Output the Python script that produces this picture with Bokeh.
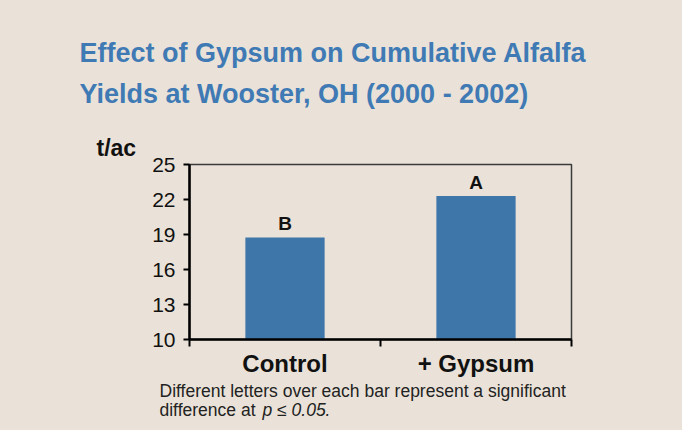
from bokeh.plotting import figure
from bokeh.models import Range1d, FixedTicker, Title
from bokeh.layouts import column
from bokeh.core.properties import value
from bokeh.embed import file_html
from bokeh.resources import INLINE

# ---- data ----
categories = ["Control", "+ Gypsum"]
yields = [18.75, 22.3]
letters = ["B", "A"]
y_ticks = [10, 13, 16, 19, 22, 25]

title_lines = ["Effect of Gypsum on Cumulative Alfalfa",
               "Yields at Wooster, OH (2000 - 2002)"]
y_unit = "t/ac"
note_line1 = "Different letters over each bar represent a significant"
note_line2a = "difference at "
note_line2b = "p \u2264 0.05."

FONT = "Liberation Sans"
BG = "#eae2d8"
BAR = "#3f76aa"
TITLE_C = "#3f7ab5"
W = 682


def text_panel(h):
    f = figure(width=W, height=h, output_backend="svg", toolbar_location=None,
               x_range=Range1d(0, W), y_range=Range1d(h, 0),
               x_axis_location=None, y_axis_location=None,
               min_border=0, min_border_left=0, min_border_right=0,
               min_border_top=0, min_border_bottom=0, frame_align=False)
    f.background_fill_color = BG
    f.border_fill_color = BG
    f.outline_line_color = None
    f.grid.visible = False
    return f


def put(f, x, y, txt, size, color="#111111", style="normal"):
    f.text(x=[x], y=[y], text=[txt], text_font=value(FONT), text_font_size=size,
           text_color=color, text_font_style=style,
           text_baseline="top", text_align="left")


# ---- header: title ----
head = text_panel(127)
put(head, 79, 37, title_lines[0], "27px", TITLE_C, "bold")
put(head, 79, 78.5, title_lines[1], "27px", TITLE_C, "bold")

# ---- main chart ----
xs = [i + 0.5 for i in range(len(categories))]

p = figure(width=W, height=252, output_backend="svg", toolbar_location=None,
           x_range=Range1d(0, len(categories)), y_range=Range1d(10, 25),
           min_border_left=189, min_border_right=111,
           min_border_top=37, min_border_bottom=38, frame_align=False)
p.background_fill_color = BG
p.border_fill_color = BG
p.outline_line_color = "#3a3a3a"
p.outline_line_width = 1.5
p.grid.visible = False
p.add_layout(Title(text=y_unit, align="left", offset=-93, standoff=8,
                   vertical_align="bottom", text_font=FONT, text_font_size="23px",
                   text_font_style="bold", text_color="#111111"), "above")

p.vbar(x=xs, top=yields, bottom=10, width=0.415, fill_color=BAR, line_color=None)
p.text(x=xs, y=yields, text=letters, text_align="center", text_baseline="bottom",
       y_offset=-3, text_font=value(FONT), text_font_style="bold",
       text_font_size="19px", text_color="#111111")

xa = p.xaxis[0]
xa.ticker = FixedTicker(ticks=xs, minor_ticks=list(range(len(categories) + 1)))
xa.major_label_overrides = {x: c for x, c in zip(xs, categories)}
xa.major_tick_out = 0
xa.major_tick_in = 0
xa.minor_tick_out = 7
xa.minor_tick_in = 0
xa.minor_tick_line_color = "black"
xa.minor_tick_line_width = 2
xa.axis_line_color = "black"
xa.axis_line_width = 2.5
xa.major_label_text_font = FONT
xa.major_label_text_font_style = "bold"
xa.major_label_text_font_size = "24px"
xa.major_label_text_color = "#111111"
xa.major_label_standoff = 3

ya = p.yaxis[0]
ya.ticker = FixedTicker(ticks=y_ticks)
ya.major_tick_out = 6
ya.major_tick_in = 0
ya.major_tick_line_width = 2
ya.minor_tick_line_color = None
ya.axis_line_color = "black"
ya.axis_line_width = 2.5
ya.major_label_text_font = FONT
ya.major_label_text_font_size = "21px"
ya.major_label_text_color = "#111111"
ya.major_label_standoff = 8

# ---- footnote ----
foot = text_panel(51)
put(foot, 159, 1, note_line1, "17.5px", "#222222")
put(foot, 159, 20.5, note_line2a, "17.5px", "#222222")
put(foot, 262, 20.5, note_line2b, "17.5px", "#222222", "italic")

layout = column(head, p, foot, spacing=0)
layout.background = BG
open("out.html", "w").write(file_html(layout, INLINE))
